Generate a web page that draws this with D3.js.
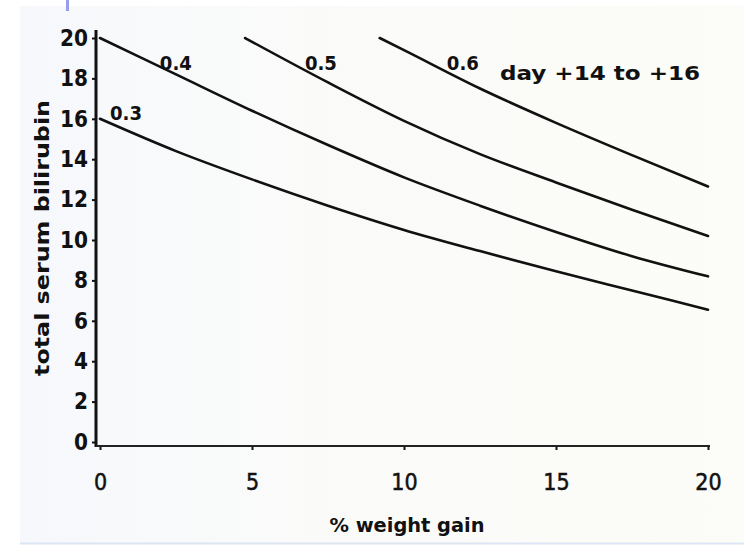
<!DOCTYPE html>
<html>
<head>
<meta charset="utf-8">
<script src="https://cdn.jsdelivr.net/npm/d3@7"></script>
<style>
  body { margin: 0; background: #ffffff; }
  #graf { width: 744px; height: 546px; }
  text { font-family: 'DejaVu Sans Condensed', 'DejaVu Sans', sans-serif; fill: #111; }
  .eje text { font-size: 23px; stroke: #111; stroke-width: 0.5px; }
  .eje-y text { font-size: 23px; font-weight: bold; }
  .etiqueta { font-size: 19px; font-weight: bold; }
  .titulo-eje { font-size: 20px; font-weight: bold; }
</style>
</head>
<body>
<div id="graf"></div>
<script>
// I. Datos
pesoX = [0, 2.5, 5, 7.5, 10, 12.5, 15, 17.5, 20]

curva03 = [16.0, 14.4, 13.0, 11.7, 10.5, 9.45, 8.45, 7.5, 6.55]
curva04 = [20.0, 18.2, 16.4, 14.7, 13.1, 11.7, 10.4, 9.2, 8.2]

// las curvas 0.5 y 0.6 arrancan en el borde superior (20)
pesoX05 = [4.77, 7.5, 10, 12.5, 15, 17.5, 20]
curva05 = [20.0, 17.8, 15.9, 14.25, 12.85, 11.5, 10.2]

pesoX06 = [9.2, 10, 12.5, 15, 17.5, 20]
curva06 = [20.0, 19.4, 17.5, 15.8, 14.2, 12.65]

nombres = ['0.3', '0.4', '0.5', '0.6']

ticksX = [0, 5, 10, 15, 20]
ticksY = [0, 2, 4, 6, 8, 10, 12, 14, 16, 18, 20]

// etiquetas de cada curva, en unidades de los ejes
etiquetaX = [0.33, 1.97, 6.74, 11.41]
etiquetaY = [15.94, 18.42, 18.42, 18.42]
nota = 'day +14 to +16'
notaPos = [13.16, 17.92]

// II. Configuración
ancho_total = 744
alto_total = 546

svg = d3.select('#graf').append('svg')
        .attr('width', ancho_total)
        .attr('height', alto_total)

// fondo del escaneo (un poco azulado a la izquierda)
grad = svg.append('defs').append('linearGradient')
          .attr('id', 'fondo')
grad.append('stop').attr('offset', '0%').attr('stop-color', '#f6f8fc')
grad.append('stop').attr('offset', '40%').attr('stop-color', '#fafbf9')
grad.append('stop').attr('offset', '100%').attr('stop-color', '#fcfcf8')

svg.append('rect')
   .attr('x', 20).attr('y', 6)
   .attr('width', ancho_total - 20).attr('height', 537)
   .attr('fill', 'url(#fondo)')
svg.append('line')
   .attr('x1', 20).attr('x2', ancho_total)
   .attr('y1', 543.5).attr('y2', 543.5)
   .attr('stroke', '#dce5f4').attr('stroke-width', 2)
svg.append('rect')
   .attr('x', 66).attr('y', 0)
   .attr('width', 3).attr('height', 11)
   .attr('fill', '#9a9cf0')

x = d3.scaleLinear()
      .domain([0, 20])
      .range([100, 708])

y = d3.scaleLinear()
      .domain([0, 20])
      .range([442, 38])

ejeX = 96          // posición del eje vertical
baseY = y(0) + 4   // posición del eje horizontal

// III. Ejes
xAxisCall = d3.axisBottom(x)
              .tickValues(ticksX)
              .tickSize(4)
              .tickSizeOuter(0)
              .tickPadding(24)
xAxisGroup = svg.append('g')
                .attr('class', 'eje')
                .attr('transform', `translate(0, ${ baseY })`)
                .call(xAxisCall)
xAxisGroup.select('.domain').remove()
xAxisGroup.selectAll('line').attr('stroke', '#111').attr('stroke-width', 2)
xAxisGroup.selectAll('text').attr('font-family', null).attr('font-size', null)

yAxisCall = d3.axisLeft(y)
              .tickValues(ticksY)
              .tickSize(4)
              .tickSizeOuter(0)
              .tickPadding(4)
yAxisGroup = svg.append('g')
                .attr('class', 'eje-y')
                .attr('transform', `translate(${ ejeX }, 0)`)
                .call(yAxisCall)
yAxisGroup.select('.domain').remove()
yAxisGroup.selectAll('line').attr('stroke', '#111').attr('stroke-width', 2)
// números angostos como en el escaneo
yAxisGroup.selectAll('text')
          .attr('font-family', null).attr('font-size', null)
          .attr('textLength', d => String(d).length * 14)
          .attr('lengthAdjust', 'spacingAndGlyphs')

// lineas de los ejes
svg.append('line')
   .attr('x1', ejeX).attr('x2', ejeX)
   .attr('y1', y(20) - 8).attr('y2', baseY + 1)
   .attr('stroke', '#111').attr('stroke-width', 3)
svg.append('line')
   .attr('x1', ejeX).attr('x2', x(20) + 2)
   .attr('y1', baseY).attr('y2', baseY)
   .attr('stroke', '#222').attr('stroke-width', 2)

// IV. Curvas
series = [
  d3.zip(pesoX, curva03),
  d3.zip(pesoX, curva04),
  d3.zip(pesoX05, curva05),
  d3.zip(pesoX06, curva06)
]

linea = d3.line()
          .x(d => x(d[0]))
          .y(d => y(d[1]))
          .curve(d3.curveMonotoneX)

svg.selectAll('path.curva')
   .data(series)
   .enter()
   .append('path')
     .attr('class', 'curva')
     .attr('d', linea)
     .attr('fill', 'none')
     .attr('stroke', '#111')
     .attr('stroke-width', 2.6)
     .attr('stroke-linecap', 'round')

svg.selectAll('text.etiqueta')
   .data(nombres)
   .enter()
   .append('text')
     .attr('class', 'etiqueta')
     .attr('x', (d, i) => x(etiquetaX[i]))
     .attr('y', (d, i) => y(etiquetaY[i]))
     .attr('textLength', 32)
     .attr('lengthAdjust', 'spacingAndGlyphs')
     .text(d => d)

svg.append('text')
   .attr('class', 'etiqueta')
   .attr('x', x(notaPos[0]))
   .attr('y', y(notaPos[1]))
   .attr('font-size', '21px')
   .attr('textLength', 200)
   .attr('lengthAdjust', 'spacingAndGlyphs')
   .text(nota)

// V. Títulos de los ejes
svg.append('text')
   .attr('class', 'titulo-eje')
   .attr('x', 407)
   .attr('y', 532)
   .attr('text-anchor', 'middle')
   .attr('textLength', 155)
   .attr('lengthAdjust', 'spacingAndGlyphs')
   .text('% weight gain')

svg.append('text')
   .attr('class', 'titulo-eje')
   .attr('transform', 'translate(49, 238) rotate(-90)')
   .attr('text-anchor', 'middle')
   .attr('font-size', '21px')
   .attr('textLength', 276)
   .attr('lengthAdjust', 'spacingAndGlyphs')
   .text('total serum bilirubin')
</script>
</body>
</html>
